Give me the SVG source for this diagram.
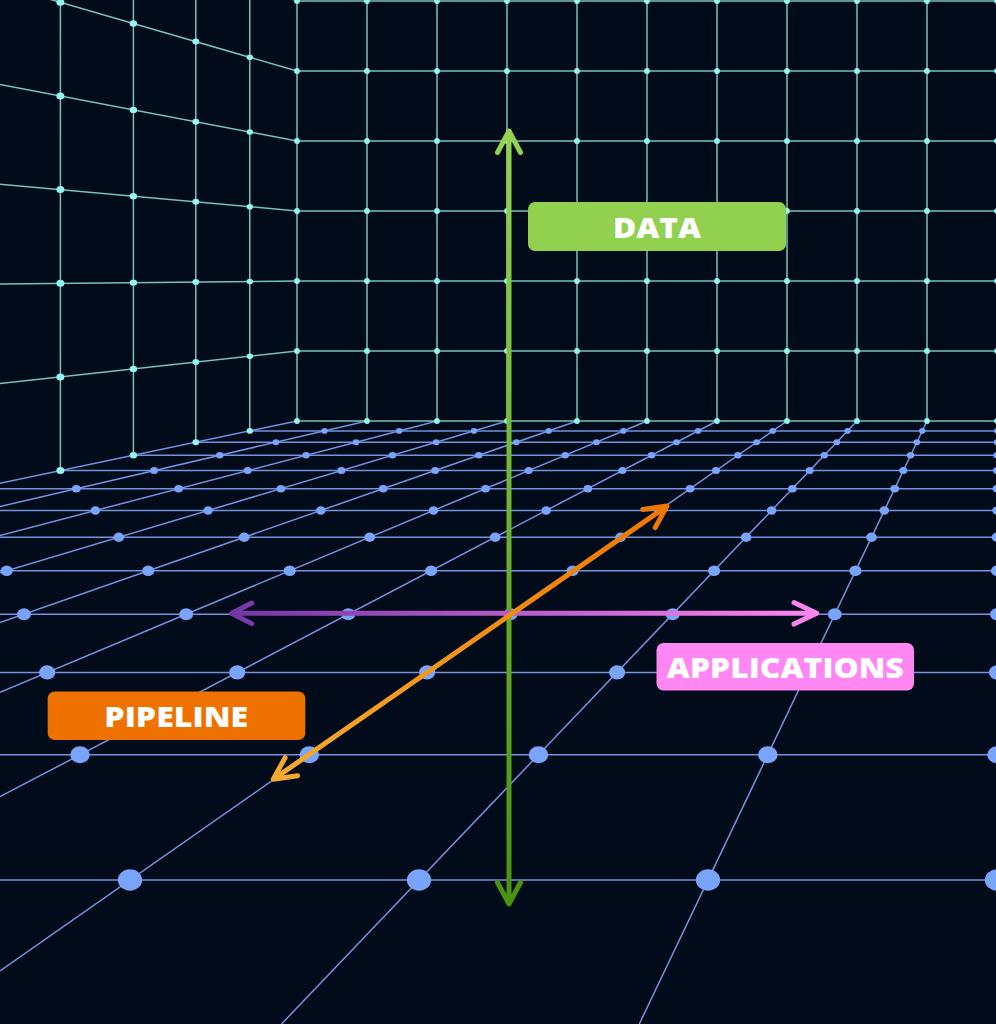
<svg xmlns="http://www.w3.org/2000/svg" width="996" height="1024" viewBox="0 0 996 1024">
<style>
.wl{fill:none;stroke:#78c2bb;stroke-width:1.5}
.fl{fill:none;stroke:#7393e0;stroke-width:1.5}
.wd{fill:#93f6f0}
.fd{fill:#78a4fb}
.arr{fill:none;stroke-width:5;stroke-linecap:round;stroke-linejoin:round}
.lbl{font-family:'Open Sans','Liberation Sans',sans-serif;font-weight:800;font-size:29px;fill:#ffffff;text-anchor:middle}
</style>
<defs>
<linearGradient id="gGreen" gradientUnits="userSpaceOnUse" x1="0" y1="130" x2="0" y2="905"><stop offset="0" stop-color="#94d352"/><stop offset="1" stop-color="#47920f"/></linearGradient>
<linearGradient id="gApp" gradientUnits="userSpaceOnUse" x1="231" y1="0" x2="817" y2="0"><stop offset="0" stop-color="#7436a6"/><stop offset="1" stop-color="#ff86f0"/></linearGradient>
<linearGradient id="gPipe" gradientUnits="userSpaceOnUse" x1="273" y1="779" x2="667" y2="506"><stop offset="0" stop-color="#f5ab2e"/><stop offset="1" stop-color="#ef7600"/></linearGradient>
</defs>
<rect x="0" y="0" width="996" height="1024" fill="#010b19"/>

<g id="floor">
<path class="fl" d="M249.8 430.9H997M195.8 442.2H997M133.4 455.3H997M60.4 470.6H997M0 488.7H997M0 510.5H997M0 537.2H997M0 570.8H997M0 614.2H997M0 672.4H997M0 754.7H997M0 880H997"/>
<path class="fl" d="M997 421V1024M927 421L639.3 1024M857 421L281.5 1024M787 421L0 970.8M717 421L0 796.7M647 421L0 692.2M577 421L0 622.5M507 421L0 572.8M437 421L0 535.5M367 421L0 506.5M297 421L0 483.2"/>
<g class="fd">
<ellipse cx="997" cy="430.9" rx="3.2" ry="2.8"/><ellipse cx="922.3" cy="430.9" rx="3.2" ry="2.8"/><ellipse cx="847.6" cy="430.9" rx="3.2" ry="2.8"/><ellipse cx="772.8" cy="430.9" rx="3.2" ry="2.8"/><ellipse cx="698.1" cy="430.9" rx="3.2" ry="2.8"/><ellipse cx="623.4" cy="430.9" rx="3.2" ry="2.8"/><ellipse cx="548.7" cy="430.9" rx="3.2" ry="2.8"/><ellipse cx="474" cy="430.9" rx="3.2" ry="2.8"/><ellipse cx="399.2" cy="430.9" rx="3.2" ry="2.8"/><ellipse cx="324.5" cy="430.9" rx="3.2" ry="2.8"/>
<ellipse cx="997" cy="442.2" rx="3.4" ry="3"/><ellipse cx="916.9" cy="442.2" rx="3.4" ry="3"/><ellipse cx="836.8" cy="442.2" rx="3.4" ry="3"/><ellipse cx="756.6" cy="442.2" rx="3.4" ry="3"/><ellipse cx="676.5" cy="442.2" rx="3.4" ry="3"/><ellipse cx="596.4" cy="442.2" rx="3.4" ry="3"/><ellipse cx="516.3" cy="442.2" rx="3.4" ry="3"/><ellipse cx="436.2" cy="442.2" rx="3.4" ry="3"/><ellipse cx="356" cy="442.2" rx="3.4" ry="3"/><ellipse cx="275.9" cy="442.2" rx="3.4" ry="3"/>
<ellipse cx="997" cy="455.3" rx="3.7" ry="3.2"/><ellipse cx="910.6" cy="455.3" rx="3.7" ry="3.2"/><ellipse cx="824.3" cy="455.3" rx="3.7" ry="3.2"/><ellipse cx="737.9" cy="455.3" rx="3.7" ry="3.2"/><ellipse cx="651.6" cy="455.3" rx="3.7" ry="3.2"/><ellipse cx="565.2" cy="455.3" rx="3.7" ry="3.2"/><ellipse cx="478.8" cy="455.3" rx="3.7" ry="3.2"/><ellipse cx="392.5" cy="455.3" rx="3.7" ry="3.2"/><ellipse cx="306.1" cy="455.3" rx="3.7" ry="3.2"/><ellipse cx="219.8" cy="455.3" rx="3.7" ry="3.2"/>
<ellipse cx="997" cy="470.6" rx="4" ry="3.5"/><ellipse cx="903.3" cy="470.6" rx="4" ry="3.5"/><ellipse cx="809.7" cy="470.6" rx="4" ry="3.5"/><ellipse cx="716" cy="470.6" rx="4" ry="3.5"/><ellipse cx="622.4" cy="470.6" rx="4" ry="3.5"/><ellipse cx="528.7" cy="470.6" rx="4" ry="3.5"/><ellipse cx="435.1" cy="470.6" rx="4" ry="3.5"/><ellipse cx="341.4" cy="470.6" rx="4" ry="3.5"/><ellipse cx="247.7" cy="470.6" rx="4" ry="3.5"/><ellipse cx="154.1" cy="470.6" rx="4" ry="3.5"/>
<ellipse cx="997" cy="488.7" rx="4.4" ry="3.8"/><ellipse cx="894.7" cy="488.7" rx="4.4" ry="3.8"/><ellipse cx="792.4" cy="488.7" rx="4.4" ry="3.8"/><ellipse cx="690.1" cy="488.7" rx="4.4" ry="3.8"/><ellipse cx="587.8" cy="488.7" rx="4.4" ry="3.8"/><ellipse cx="485.5" cy="488.7" rx="4.4" ry="3.8"/><ellipse cx="383.2" cy="488.7" rx="4.4" ry="3.8"/><ellipse cx="280.9" cy="488.7" rx="4.4" ry="3.8"/><ellipse cx="178.6" cy="488.7" rx="4.4" ry="3.8"/><ellipse cx="76.3" cy="488.7" rx="4.4" ry="3.8"/>
<ellipse cx="997" cy="510.5" rx="4.8" ry="4.2"/><ellipse cx="884.3" cy="510.5" rx="4.8" ry="4.2"/><ellipse cx="771.6" cy="510.5" rx="4.8" ry="4.2"/><ellipse cx="658.9" cy="510.5" rx="4.8" ry="4.2"/><ellipse cx="546.2" cy="510.5" rx="4.8" ry="4.2"/><ellipse cx="433.5" cy="510.5" rx="4.8" ry="4.2"/><ellipse cx="320.8" cy="510.5" rx="4.8" ry="4.2"/><ellipse cx="208.1" cy="510.5" rx="4.8" ry="4.2"/><ellipse cx="95.4" cy="510.5" rx="4.8" ry="4.2"/>
<ellipse cx="997" cy="537.2" rx="5.4" ry="4.7"/><ellipse cx="871.5" cy="537.2" rx="5.4" ry="4.7"/><ellipse cx="746.1" cy="537.2" rx="5.4" ry="4.7"/><ellipse cx="620.6" cy="537.2" rx="5.4" ry="4.7"/><ellipse cx="495.2" cy="537.2" rx="5.4" ry="4.7"/><ellipse cx="369.7" cy="537.2" rx="5.4" ry="4.7"/><ellipse cx="244.2" cy="537.2" rx="5.4" ry="4.7"/><ellipse cx="118.8" cy="537.2" rx="5.4" ry="4.7"/>
<ellipse cx="997" cy="570.8" rx="6.1" ry="5.3"/><ellipse cx="855.5" cy="570.8" rx="6.1" ry="5.3"/><ellipse cx="714.1" cy="570.8" rx="6.1" ry="5.3"/><ellipse cx="572.6" cy="570.8" rx="6.1" ry="5.3"/><ellipse cx="431.1" cy="570.8" rx="6.1" ry="5.3"/><ellipse cx="289.7" cy="570.8" rx="6.1" ry="5.3"/><ellipse cx="148.2" cy="570.8" rx="6.1" ry="5.3"/><ellipse cx="6.7" cy="570.8" rx="6.1" ry="5.3"/>
<ellipse cx="997" cy="614.2" rx="7" ry="6"/><ellipse cx="834.8" cy="614.2" rx="7" ry="6"/><ellipse cx="672.7" cy="614.2" rx="7" ry="6"/><ellipse cx="510.5" cy="614.2" rx="7" ry="6"/><ellipse cx="348.3" cy="614.2" rx="7" ry="6"/><ellipse cx="186.2" cy="614.2" rx="7" ry="6"/><ellipse cx="24" cy="614.2" rx="7" ry="6"/>
<ellipse cx="997" cy="672.4" rx="8.1" ry="7.1"/><ellipse cx="807" cy="672.4" rx="8.1" ry="7.1"/><ellipse cx="617.1" cy="672.4" rx="8.1" ry="7.1"/><ellipse cx="427.1" cy="672.4" rx="8.1" ry="7.1"/><ellipse cx="237.2" cy="672.4" rx="8.1" ry="7.1"/><ellipse cx="47.2" cy="672.4" rx="8.1" ry="7.1"/>
<ellipse cx="997" cy="754.7" rx="9.8" ry="8.5"/><ellipse cx="767.8" cy="754.7" rx="9.8" ry="8.5"/><ellipse cx="538.5" cy="754.7" rx="9.8" ry="8.5"/><ellipse cx="309.3" cy="754.7" rx="9.8" ry="8.5"/><ellipse cx="80" cy="754.7" rx="9.8" ry="8.5"/>
<ellipse cx="997" cy="880" rx="12.2" ry="10.7"/><ellipse cx="708" cy="880" rx="12.2" ry="10.7"/><ellipse cx="419" cy="880" rx="12.2" ry="10.7"/><ellipse cx="130" cy="880" rx="12.2" ry="10.7"/>
</g>
</g>

<g id="left-wall">
<path class="wl" d="M249.8 0V430.9M195.8 0V442.2M133.4 0V455.3M60.4 0V470.6M297 351L0 383.6M297 281L0 283.9M297 211L0 184.2M297 141L0 84.5M297 71L0 -15.2M297 1L0 -115"/>
<g class="wd">
<ellipse cx="249.8" cy="430.9" rx="3.2" ry="2.8"/><ellipse cx="249.8" cy="356.2" rx="3.2" ry="2.8"/><ellipse cx="249.8" cy="281.5" rx="3.2" ry="2.8"/><ellipse cx="249.8" cy="206.7" rx="3.2" ry="2.8"/><ellipse cx="249.8" cy="132" rx="3.2" ry="2.8"/><ellipse cx="249.8" cy="57.3" rx="3.2" ry="2.8"/>
<ellipse cx="195.8" cy="442.2" rx="3.4" ry="3"/><ellipse cx="195.8" cy="362.1" rx="3.4" ry="3"/><ellipse cx="195.8" cy="282" rx="3.4" ry="3"/><ellipse cx="195.8" cy="201.8" rx="3.4" ry="3"/><ellipse cx="195.8" cy="121.7" rx="3.4" ry="3"/><ellipse cx="195.8" cy="41.6" rx="3.4" ry="3"/>
<ellipse cx="133.4" cy="455.3" rx="3.7" ry="3.2"/><ellipse cx="133.4" cy="368.9" rx="3.7" ry="3.2"/><ellipse cx="133.4" cy="282.6" rx="3.7" ry="3.2"/><ellipse cx="133.4" cy="196.2" rx="3.7" ry="3.2"/><ellipse cx="133.4" cy="109.9" rx="3.7" ry="3.2"/><ellipse cx="133.4" cy="23.5" rx="3.7" ry="3.2"/>
<ellipse cx="60.4" cy="470.6" rx="4" ry="3.5"/><ellipse cx="60.4" cy="376.9" rx="4" ry="3.5"/><ellipse cx="60.4" cy="283.3" rx="4" ry="3.5"/><ellipse cx="60.4" cy="189.6" rx="4" ry="3.5"/><ellipse cx="60.4" cy="96" rx="4" ry="3.5"/><ellipse cx="60.4" cy="2.3" rx="4" ry="3.5"/>
</g>
</g>

<g id="back-wall">
<path class="wl" d="M297 0V421M367 0V421M437 0V421M507 0V421M577 0V421M647 0V421M717 0V421M787 0V421M857 0V421M927 0V421M997 0V421M297 1H997M297 71H997M297 141H997M297 211H997M297 281H997M297 351H997M297 421H997"/>
<g class="wd">
<circle cx="297" cy="1" r="2.9"/><circle cx="367" cy="1" r="2.9"/><circle cx="437" cy="1" r="2.9"/><circle cx="507" cy="1" r="2.9"/><circle cx="577" cy="1" r="2.9"/><circle cx="647" cy="1" r="2.9"/><circle cx="717" cy="1" r="2.9"/><circle cx="787" cy="1" r="2.9"/><circle cx="857" cy="1" r="2.9"/><circle cx="927" cy="1" r="2.9"/><circle cx="997" cy="1" r="2.9"/>
<circle cx="297" cy="71" r="2.9"/><circle cx="367" cy="71" r="2.9"/><circle cx="437" cy="71" r="2.9"/><circle cx="507" cy="71" r="2.9"/><circle cx="577" cy="71" r="2.9"/><circle cx="647" cy="71" r="2.9"/><circle cx="717" cy="71" r="2.9"/><circle cx="787" cy="71" r="2.9"/><circle cx="857" cy="71" r="2.9"/><circle cx="927" cy="71" r="2.9"/><circle cx="997" cy="71" r="2.9"/>
<circle cx="297" cy="141" r="2.9"/><circle cx="367" cy="141" r="2.9"/><circle cx="437" cy="141" r="2.9"/><circle cx="507" cy="141" r="2.9"/><circle cx="577" cy="141" r="2.9"/><circle cx="647" cy="141" r="2.9"/><circle cx="717" cy="141" r="2.9"/><circle cx="787" cy="141" r="2.9"/><circle cx="857" cy="141" r="2.9"/><circle cx="927" cy="141" r="2.9"/><circle cx="997" cy="141" r="2.9"/>
<circle cx="297" cy="211" r="2.9"/><circle cx="367" cy="211" r="2.9"/><circle cx="437" cy="211" r="2.9"/><circle cx="507" cy="211" r="2.9"/><circle cx="577" cy="211" r="2.9"/><circle cx="647" cy="211" r="2.9"/><circle cx="717" cy="211" r="2.9"/><circle cx="787" cy="211" r="2.9"/><circle cx="857" cy="211" r="2.9"/><circle cx="927" cy="211" r="2.9"/><circle cx="997" cy="211" r="2.9"/>
<circle cx="297" cy="281" r="2.9"/><circle cx="367" cy="281" r="2.9"/><circle cx="437" cy="281" r="2.9"/><circle cx="507" cy="281" r="2.9"/><circle cx="577" cy="281" r="2.9"/><circle cx="647" cy="281" r="2.9"/><circle cx="717" cy="281" r="2.9"/><circle cx="787" cy="281" r="2.9"/><circle cx="857" cy="281" r="2.9"/><circle cx="927" cy="281" r="2.9"/><circle cx="997" cy="281" r="2.9"/>
<circle cx="297" cy="351" r="2.9"/><circle cx="367" cy="351" r="2.9"/><circle cx="437" cy="351" r="2.9"/><circle cx="507" cy="351" r="2.9"/><circle cx="577" cy="351" r="2.9"/><circle cx="647" cy="351" r="2.9"/><circle cx="717" cy="351" r="2.9"/><circle cx="787" cy="351" r="2.9"/><circle cx="857" cy="351" r="2.9"/><circle cx="927" cy="351" r="2.9"/><circle cx="997" cy="351" r="2.9"/>
<circle cx="297" cy="421" r="2.9"/><circle cx="367" cy="421" r="2.9"/><circle cx="437" cy="421" r="2.9"/><circle cx="507" cy="421" r="2.9"/><circle cx="577" cy="421" r="2.9"/><circle cx="647" cy="421" r="2.9"/><circle cx="717" cy="421" r="2.9"/><circle cx="787" cy="421" r="2.9"/><circle cx="857" cy="421" r="2.9"/><circle cx="927" cy="421" r="2.9"/><circle cx="997" cy="421" r="2.9"/>
</g>
</g>

<g id="connectors">
<g id="arrow-data" class="arr" stroke="url(#gGreen)">
<path d="M509 133V902"/>
<path d="M497.5 152.5L509 131L520.5 152.5"/>
<path d="M497.5 882.5L509 904L520.5 882.5"/>
</g>
<g id="arrow-applications" class="arr" stroke="url(#gApp)">
<path d="M233 613.3H815"/>
<path d="M251.7 603L231.7 613.3L251.7 623.6"/>
<path d="M794 602.5L816.7 613.3L794 624.1"/>
</g>
<g id="arrow-pipeline" class="arr" stroke="url(#gPipe)">
<path d="M275 778.1L665.4 507.1"/>
<path d="M297.6 775.8L273.3 779.3L285.1 757.7"/>
<path d="M642.7 509.5L667 506L655.2 527.6"/>
</g>
</g>

<g id="node-data">
<rect x="528" y="202" width="258" height="49" rx="7" fill="#92d050"/>
<text class="lbl" x="657" y="237.7" textLength="88" lengthAdjust="spacingAndGlyphs">DATA</text>
</g>
<g id="node-applications">
<rect x="656.5" y="643" width="257.5" height="47.5" rx="7" fill="#ff87f4"/>
<text class="lbl" x="785.3" y="678.3" textLength="237" lengthAdjust="spacingAndGlyphs">APPLICATIONS</text>
</g>
<g id="node-pipeline">
<rect x="47.7" y="691.5" width="257.6" height="48.5" rx="7" fill="#ef7200"/>
<text class="lbl" x="176.3" y="726.7" textLength="144" lengthAdjust="spacingAndGlyphs">PIPELINE</text>
</g>
</svg>
